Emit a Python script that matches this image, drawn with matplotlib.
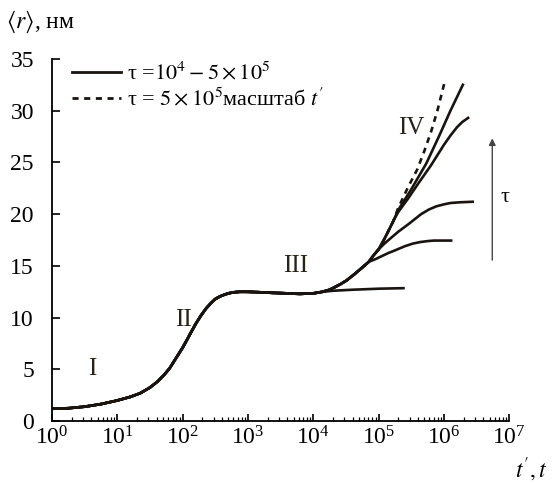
import numpy as np
import matplotlib
matplotlib.use('Agg')
import matplotlib.pyplot as plt
from matplotlib.lines import Line2D
from matplotlib.ticker import LogLocator

plt.rcParams['font.family'] = ['Liberation Serif', 'DejaVu Serif']
plt.rcParams['mathtext.fontset'] = 'stix'

# lg t (decades) and <r> (nm)
lg_common = [0.0, 0.25, 0.5, 0.75, 1.0, 1.2, 1.35, 1.5, 1.62, 1.72, 1.8, 1.9,
             2.0, 2.07, 2.13, 2.2, 2.28, 2.36, 2.44, 2.5, 2.57, 2.63, 2.7,
             2.78, 2.87, 3.0, 3.2, 3.38, 3.6, 3.79, 4.0, 4.14]
r_common = [1.2, 1.25, 1.4, 1.65, 2.0, 2.35, 2.7, 3.25, 3.85, 4.5, 5.1, 6.1,
            7.1, 7.9, 8.6, 9.4, 10.2, 10.9, 11.45, 11.8, 12.05, 12.2, 12.35,
            12.45, 12.5, 12.5, 12.45, 12.4, 12.35, 12.3, 12.35, 12.5]

lg_base = [4.3, 4.6, 5.0, 5.38]
r_base = [12.6, 12.7, 12.8, 12.85]

lg_trunk = [4.25, 4.33, 4.42, 4.51, 4.63, 4.76, 4.85]
r_trunk = [12.7, 12.95, 13.25, 13.6, 14.2, 14.9, 15.4]

lg_tau2 = [4.95, 5.05, 5.15, 5.25, 5.4, 5.52, 5.63, 5.75, 5.85, 6.11]
r_tau2 = [15.65, 15.95, 16.25, 16.5, 16.9, 17.15, 17.3, 17.4, 17.45, 17.45]

lg_trunk2 = [4.92, 5.0]
r_trunk2 = [16.0, 16.6]

lg_tau3 = [5.08, 5.17, 5.3, 5.47, 5.65, 5.77, 5.88, 6.0, 6.1, 6.25, 6.44]
r_tau3 = [17.1, 17.6, 18.3, 19.1, 20.0, 20.45, 20.75, 20.95, 21.08, 21.15, 21.2]

lg_trunk3 = [5.08, 5.16, 5.23]
r_trunk3 = [17.5, 18.5, 19.4]

lg_tau4 = [5.3, 5.45, 5.6, 5.8, 6.0, 6.1, 6.2, 6.28, 6.37]
r_tau4 = [20.2, 21.5, 22.9, 24.7, 26.7, 27.6, 28.4, 28.9, 29.3]

lg_tau5 = [5.3, 5.5, 5.73, 5.93, 6.1, 6.29]
r_tau5 = [20.4, 22.4, 24.9, 27.6, 30.0, 32.5]

lg_scaled = [5.3, 5.45, 5.59, 5.7, 5.8, 5.9, 5.98, 6.02]
r_scaled = [20.6, 22.6, 24.3, 26.1, 27.9, 30.0, 32.0, 33.0]

regions = ['I', 'II', 'III', 'IV']
region_lg = [0.62, 2.02, 3.73, 5.5]
region_r = [5.0, 9.8, 15.0, 28.3]


def curve(*parts):
    lg, r = [], []
    for a, b in parts:
        lg += a
        r += b
    return 10 ** np.array(lg), np.array(r)


fig = plt.figure(figsize=(5.59, 4.83), dpi=100)
ax = fig.add_axes([0.093, 0.128, 0.818, 0.75])

ink = '#1a1410'
common = (lg_common, r_common)
trunk = (lg_trunk, r_trunk)
trunk2 = (lg_trunk2, r_trunk2)
trunk3 = (lg_trunk3, r_trunk3)
curves = [
    curve(common, (lg_base, r_base)),
    curve(common, trunk, (lg_tau2, r_tau2)),
    curve(common, trunk, trunk2, (lg_tau3, r_tau3)),
    curve(common, trunk, trunk2, trunk3, (lg_tau4, r_tau4)),
    curve(common, trunk, trunk2, trunk3, (lg_tau5, r_tau5)),
]
for t, r in curves:
    ax.plot(t, r, color=ink, lw=1.9, solid_joinstyle='round')

t, r = curve(common, trunk, trunk2, trunk3, (lg_scaled, r_scaled))
ax.plot(t, r, color=ink, lw=1.9, ls=(0, (2.2, 2.0)))

for name, x, y in zip(regions, region_lg, region_r):
    ax.text(10 ** x, y, name, fontsize=18, ha='center', va='center', color='#2a2218')

# tau arrow
ax.annotate('', xy=(10 ** 6.74, 27.6), xytext=(10 ** 6.74, 15.3),
            arrowprops=dict(arrowstyle='-|>', color='#444444', lw=1.0,
                            mutation_scale=10))
ax.text(10 ** 6.93, 21.6, 'τ', fontsize=16, ha='center', va='center')

ax.set_xscale('log')
ax.set_xlim(1, 1e7)
ax.set_ylim(0, 35)
ax.set_yticks(range(0, 36, 5))
ax.xaxis.set_major_locator(LogLocator(base=10, numticks=20))
ax.xaxis.set_minor_locator(LogLocator(base=10, subs=np.arange(2, 10), numticks=20))
ax.spines['top'].set_visible(False)
ax.spines['right'].set_visible(False)
for s in ('left', 'bottom'):
    ax.spines[s].set_linewidth(1.3)
ax.tick_params(axis='both', which='major', direction='in', length=6, width=1.2,
               labelsize=17)
ax.tick_params(axis='x', which='major', length=5, pad=4)
ax.tick_params(axis='x', which='minor', direction='in', length=3, width=0.9)
ax.tick_params(axis='y', pad=13)

handles = [Line2D([], [], color=ink, lw=2.0),
           Line2D([], [], color=ink, lw=2.0, ls=(0, (2.2, 2.0)))]
labels = [r'τ =$10^4 - 5\times10^5$', r"τ = $5\times10^5$масштаб $t'$"]
ax.legend(handles, labels, loc='upper left', bbox_to_anchor=(0.01, 1.035),
          frameon=False, fontsize=16, handlelength=2.2, handletextpad=0.25,
          labelspacing=0.15, borderaxespad=0.3)

fig.text(0.01, 0.955, r'$\langle r\rangle$, нм', fontsize=17, ha='left', va='center')
fig.text(0.98, 0.028, r"$t', t$", fontsize=17, ha='right', va='center')

fig.savefig('out.png', dpi=100)
